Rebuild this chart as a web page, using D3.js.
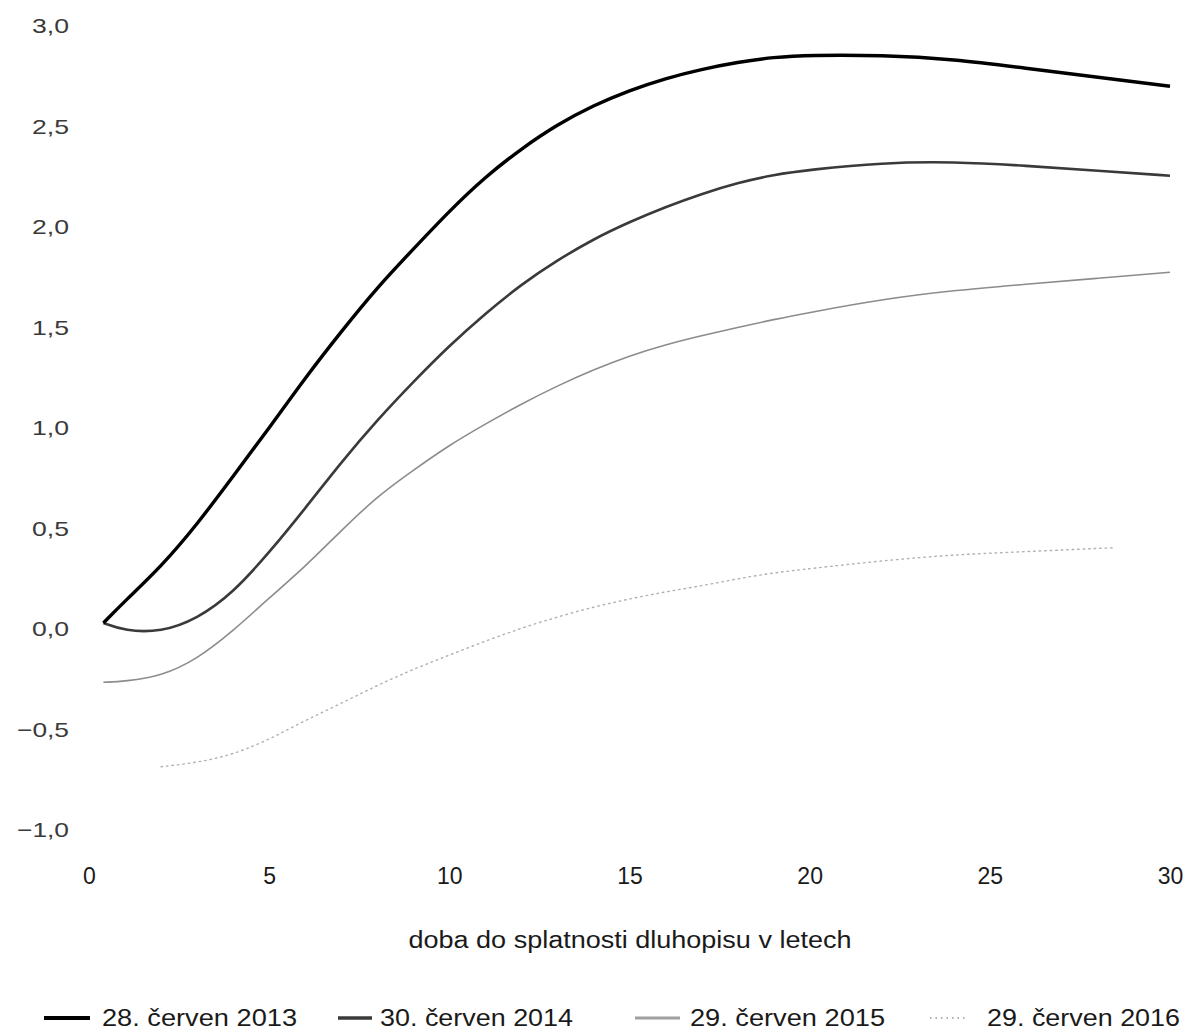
<!DOCTYPE html>
<html>
<head>
<meta charset="utf-8">
<script src="https://cdn.jsdelivr.net/npm/d3@7"></script>
<style>
  html, body { margin: 0; padding: 0; background: #fff; }
  svg { display: block; }
  text { font-family: "Liberation Sans", Arial, sans-serif; }
</style>
</head>
<body>
<svg id="chart" width="1185" height="1035"></svg>
<script>
// ---- data ----
const maturities = [0.4, 1, 2, 3, 4, 5, 6, 7, 8, 9, 10, 11, 12, 13, 14, 15, 16, 17, 18, 19, 20, 22, 24, 26, 28, 30];
const y2013 = [0.03, 0.14, 0.31, 0.52, 0.76, 1.00, 1.25, 1.48, 1.70, 1.89, 2.08, 2.25, 2.39, 2.51, 2.605, 2.68, 2.74, 2.785, 2.82, 2.845, 2.855, 2.855, 2.835, 2.79, 2.745, 2.70];
const y2014 = [0.03, -0.01, -0.015, 0.05, 0.18, 0.38, 0.60, 0.83, 1.04, 1.23, 1.41, 1.57, 1.715, 1.835, 1.94, 2.025, 2.10, 2.165, 2.22, 2.26, 2.285, 2.32, 2.325, 2.305, 2.28, 2.255];
const y2015 = [-0.265, -0.26, -0.235, -0.15, -0.01, 0.155, 0.31, 0.49, 0.66, 0.79, 0.915, 1.02, 1.12, 1.21, 1.29, 1.36, 1.415, 1.46, 1.50, 1.54, 1.575, 1.64, 1.685, 1.715, 1.745, 1.775];
const maturities2016 = [2, 3, 4, 5, 6, 7, 8, 9, 10, 11, 12, 13, 14, 15, 16, 17, 18, 19, 20, 22, 24, 26, 28.5];
const y2016 = [-0.685, -0.665, -0.625, -0.55, -0.455, -0.37, -0.28, -0.20, -0.13, -0.06, 0.005, 0.06, 0.11, 0.15, 0.185, 0.215, 0.25, 0.28, 0.30, 0.34, 0.37, 0.385, 0.405];
const seriesNames = ["28. červen 2013", "30. červen 2014", "29. červen 2015", "29. červen 2016"];
const xTicks = [0, 5, 10, 15, 20, 25, 30];
const yTicks = [-1, -0.5, 0, 0.5, 1, 1.5, 2, 2.5, 3];
const xTitle = "doba do splatnosti dluhopisu v letech";

// ---- styles ----
const styles = [
  { color: "#000000", width: 3.4, dash: null },
  { color: "#3a3a3a", width: 2.6, dash: null },
  { color: "#8c8c8c", width: 1.6, dash: null },
  { color: "#b0b0b0", width: 1.4, dash: "1.5,4" }
];

const svg = d3.select("#chart");
const x = d3.scaleLinear().domain([0, 30]).range([89, 1170]);
const y = d3.scaleLinear().domain([-1, 3]).range([830, 26]);

const loc = d3.formatLocale({ decimal: ",", thousands: " ", grouping: [3], currency: ["", ""], minus: "\u2212" });
const fmt = loc.format(".1f");

// y axis labels
const gy = svg.append("g").attr("transform", "translate(69,0)")
  .call(d3.axisLeft(y).tickValues(yTicks).tickSize(0).tickPadding(0).tickFormat(fmt));
gy.select(".domain").remove();
gy.selectAll("text")
  .attr("font-size", 21).attr("fill", "#3a3a3a")
  .attr("font-family", "'Liberation Sans', Arial, sans-serif")
  .attr("textLength", d => d < 0 ? 52 : 37).attr("lengthAdjust", "spacingAndGlyphs");

// x axis labels
const gx = svg.append("g").attr("transform", "translate(0,868)")
  .call(d3.axisBottom(x).tickValues(xTicks).tickSize(0).tickPadding(0).tickFormat(d3.format("d")));
gx.select(".domain").remove();
gx.selectAll("text")
  .attr("font-size", 23).attr("fill", "#1a1a1a")
  .attr("font-family", "'Liberation Sans', Arial, sans-serif");

// axis title
svg.append("text").attr("x", 630).attr("y", 948).attr("text-anchor", "middle")
  .attr("font-size", 23).attr("fill", "#1a1a1a")
  .attr("textLength", 443).attr("lengthAdjust", "spacingAndGlyphs")
  .text(xTitle);

// lines
const line = d3.line().x(d => x(d[0])).y(d => y(d[1])).curve(d3.curveBasis);
const series = [
  d3.zip(maturities, y2013),
  d3.zip(maturities, y2014),
  d3.zip(maturities, y2015),
  d3.zip(maturities2016, y2016)
];
// draw lightest first
[3, 2, 1, 0].forEach(i => {
  svg.append("path").datum(series[i])
    .attr("d", line)
    .attr("fill", "none")
    .attr("stroke", styles[i].color)
    .attr("stroke-width", styles[i].width)
    .attr("stroke-linecap", styles[i].dash ? "round" : "butt")
    .attr("stroke-dasharray", styles[i].dash);
});

// legend
const legendItems = [
  { x1: 44, x2: 90, tx: 102, tw: 195, w: 4 },
  { x1: 338, x2: 372, tx: 380, tw: 193, w: 3.4 },
  { x1: 635, x2: 680, tx: 690, tw: 195, w: 3 },
  { x1: 930, x2: 966, tx: 987, tw: 193, w: 1.8 }
];
legendItems.forEach((it, i) => {
  const g = svg.append("g");
  g.append("line").attr("x1", it.x1).attr("x2", it.x2).attr("y1", 1018).attr("y2", 1018)
    .attr("stroke", i === 2 ? "#a0a0a0" : styles[i].color)
    .attr("stroke-width", it.w)
    .attr("stroke-dasharray", styles[i].dash);
  g.append("text").attr("x", it.tx).attr("y", 1026)
    .attr("font-size", 23).attr("fill", "#1a1a1a")
    .attr("textLength", it.tw).attr("lengthAdjust", "spacingAndGlyphs")
    .text(seriesNames[i]);
});
</script>
</body>
</html>
